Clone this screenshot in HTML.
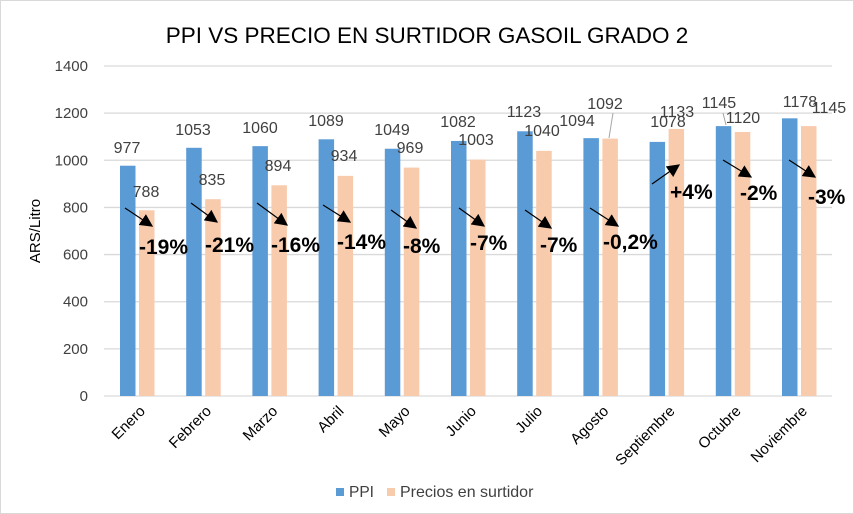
<!DOCTYPE html>
<html><head><meta charset="utf-8"><style>
html,body{margin:0;padding:0;background:#fff}
svg{display:block;font-family:"Liberation Sans",Calibri,sans-serif}
</style></head><body>
<svg id="c" width="854" height="514" viewBox="0 0 854 514" xmlns="http://www.w3.org/2000/svg">
<rect x="0.5" y="0.5" width="853" height="513" fill="#fff" stroke="#d9d9d9"/>
<defs><marker id="ab" viewBox="0 0 10 10" markerWidth="13" markerHeight="13" refX="9" refY="5" orient="auto" markerUnits="userSpaceOnUse"><path d="M0,0 L10,5 L0,10 z" fill="#000"/></marker></defs>
<text x="427" y="43" text-anchor="middle" font-size="22.5" fill="#000">PPI VS PRECIO EN SURTIDOR GASOIL GRADO 2</text>
<g id="g"></g>
</svg>
<script>
const g=document.getElementById('g');let s='';
const Y=v=>396-v*330/1400;
for(let i=0;i<=7;i++){const y=Y(i*200);s+=`<line x1="104" x2="832" y1="${y}" y2="${y}" stroke="#d9d9d9" stroke-width="1.3"/>`;s+=`<text x="88" y="${y+5}" text-anchor="end" font-size="15" fill="#404040">${i*200}</text>`;}
s+=`<text transform="translate(40,231) rotate(-90)" text-anchor="middle" font-size="15" fill="#000">ARS/Litro</text>`;
const m=['Enero','Febrero','Marzo','Abril','Mayo','Junio','Julio','Agosto','Septiembre','Octubre','Noviembre'];
const a=[977,1053,1060,1089,1049,1082,1123,1094,1078,1145,1178];
const b=[788,835,894,934,969,1003,1040,1092,1133,1120,1145];
const la=[[127,153],[193,135],[260,133],[326,126],[392,135],[458,127],[524,117],[577,126],[668,127],[719,108],[800,107]];
const lb=[[146,197],[212,185],[278,171],[344,161],[410,153],[476,145],[542,136],[605,109],[677,117],[743,123],[829,113]];
for(let i=0;i<11;i++){const x=120+i*66.2;
s+=`<rect x="${x}" y="${Y(a[i])}" width="15.5" height="${396-Y(a[i])}" fill="#5b9bd5"/>`;
s+=`<rect x="${x+19}" y="${Y(b[i])}" width="15.5" height="${396-Y(b[i])}" fill="#f8cbad"/>`;
s+=`<text x="${la[i][0]}" y="${la[i][1]}" text-anchor="middle" font-size="16" fill="#404040">${a[i]}</text>`;
s+=`<text x="${lb[i][0]}" y="${lb[i][1]}" text-anchor="middle" font-size="16" fill="#404040">${b[i]}</text>`;
s+=`<text transform="translate(${x+26},412) rotate(-45)" text-anchor="end" font-size="15" fill="#000">${m[i]}</text>`;}
s+=`<line x1="613" y1="113" x2="609" y2="138" stroke="#a6a6a6"/><line x1="723" y1="113" x2="726" y2="125" stroke="#a6a6a6"/>`;
const ar=[[125,208,152,226,'-19%',139,254],[191,203,217,222,'-21%',205,252],[257,203,287,225,'-16%',271,252],[323,205,350,222,'-14%',337,249],[391,210,416,228,'-8%',403,253],[459,208,484,226,'-7%',470,250],[525,210,551,228,'-7%',540,252],[590,208,618,226,'-0,2%',603,249],[652,184,679,165,'+4%',670,199],[723,160,751,177,'-2%',740,200],[789,160,815,177,'-3%',808,204]];
for(const r of ar){s+=`<line x1="${r[0]}" y1="${r[1]}" x2="${r[2]}" y2="${r[3]}" stroke="#000" stroke-width="1.2" marker-end="url(#ab)"/>`;
s+=`<text x="${r[5]}" y="${r[6]}" font-size="21" font-weight="bold" fill="#000">${r[4]}</text>`;}
s+=`<rect x="336" y="488" width="8" height="8" fill="#5b9bd5"/><text x="349" y="497" font-size="15.5" fill="#404040">PPI</text>`;
s+=`<rect x="387" y="488" width="8" height="8" fill="#f8cbad"/><text x="400" y="497" font-size="16" fill="#404040">Precios en surtidor</text>`;
g.innerHTML=s;
</script>
</body></html>
